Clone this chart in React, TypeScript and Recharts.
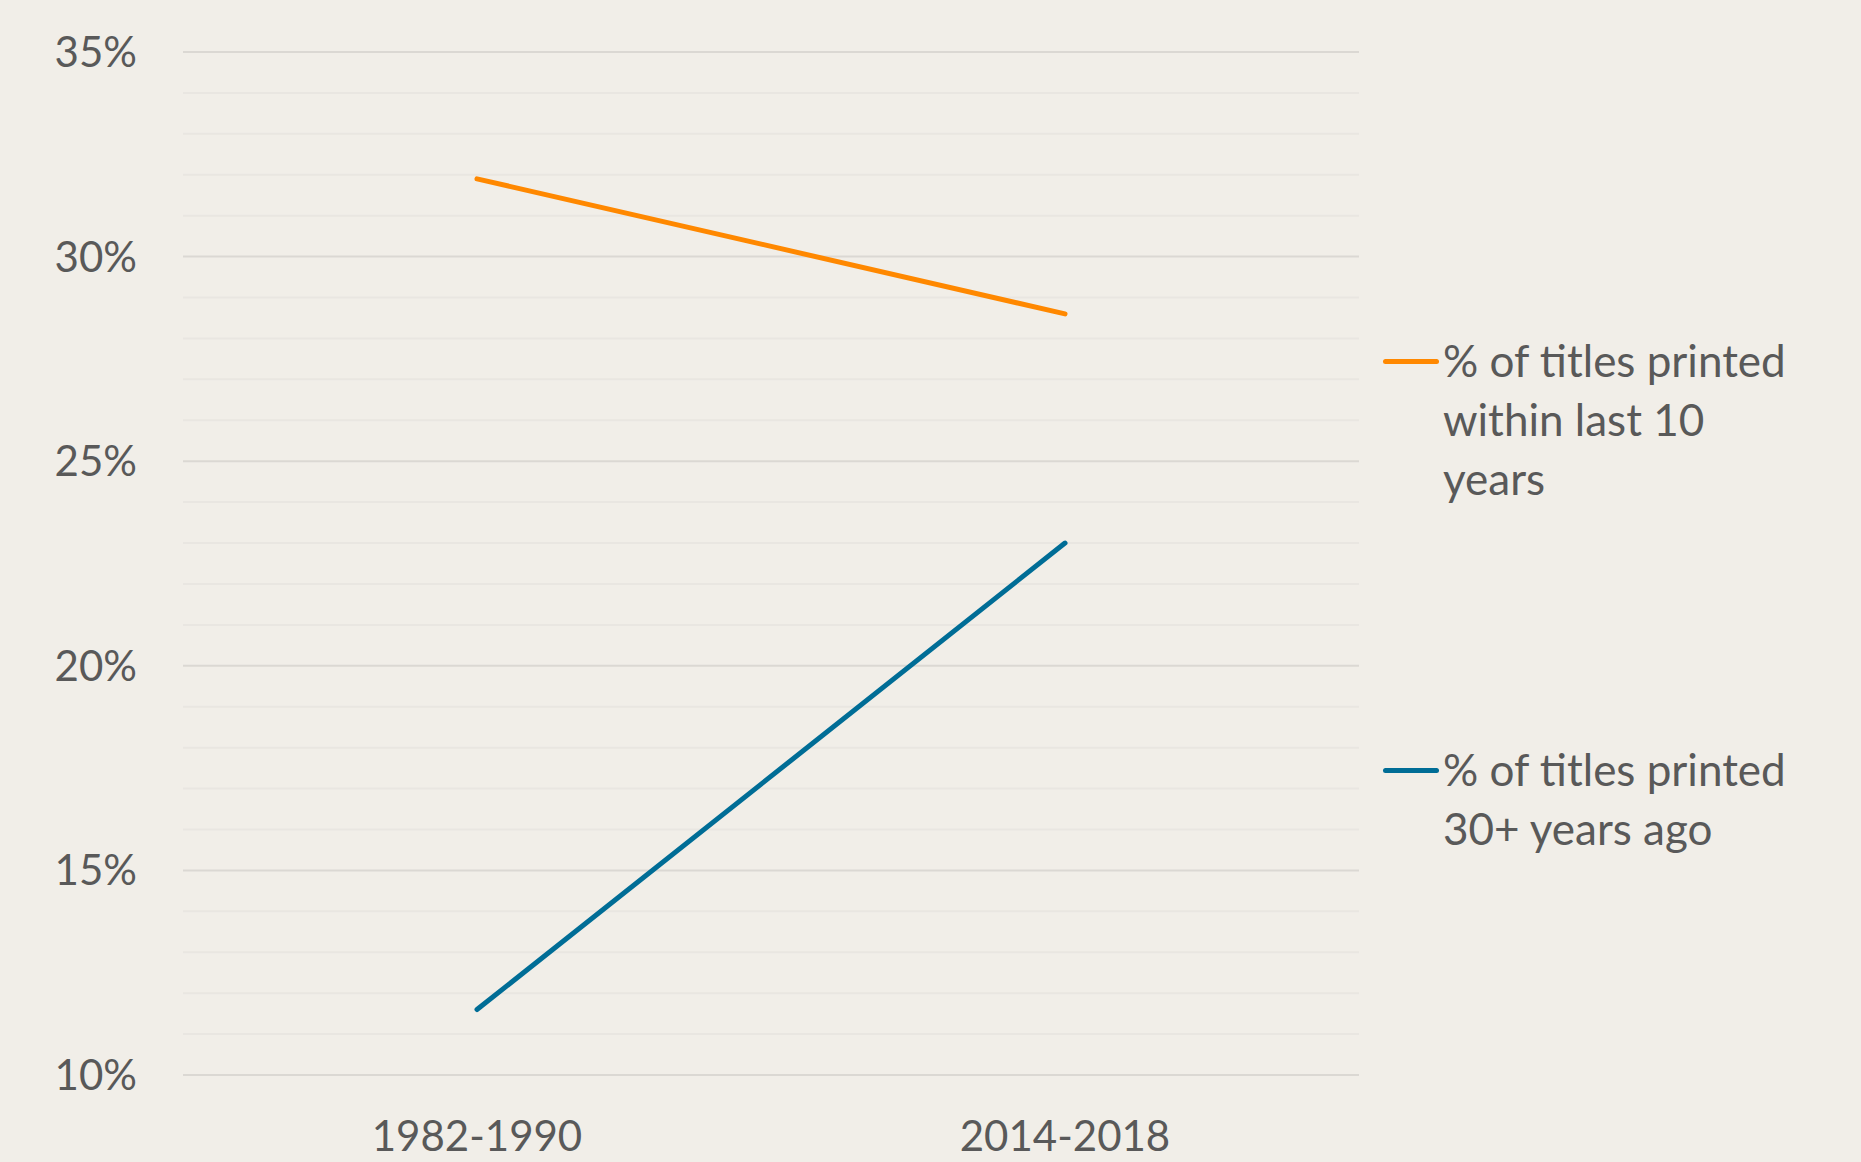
import React from 'react';
import {
  LineChart,
  Line,
  XAxis,
  YAxis,
  CartesianGrid,
  ReferenceLine
} from 'recharts';

const categories = ['1982-1990', '2014-2018'];
const recentTitles = [31.9, 28.6];
const oldTitles = [11.6, 23.0];
const yTicks = [10, 15, 20, 25, 30, 35];
const minorTicks = [11, 12, 13, 14, 16, 17, 18, 19, 21, 22, 23, 24, 26, 27, 28, 29, 31, 32, 33, 34];

const recentLabel = ['% of titles printed', 'within last 10', 'years'];
const oldLabel = ['% of titles printed', '30+ years ago'];

const BG = '#f1eee8';
const TEXT = '#595959';
const ORANGE = '#ff8800';
const BLUE = '#006d96';
const FONT = 'Lato, "Open Sans", sans-serif';

const chartData = categories.map((c, i) => ({
  period: c,
  recent: recentTitles[i],
  old: oldTitles[i]
}));

const LegendEntry: React.FC<{ color: string; lines: string[]; top: number }> = ({ color, lines, top }) => (
  <div style={{ position: 'absolute', left: 1383, top, fontFamily: FONT, fontSize: 44, lineHeight: '59px', color: TEXT }}>
    <div style={{ position: 'absolute', left: 0, top: 28, width: 56, height: 5, borderRadius: 3, background: color }} />
    <div style={{ marginLeft: 60, whiteSpace: 'nowrap' }}>
      {lines.map(l => <div key={l}>{l}</div>)}
    </div>
  </div>
);

export default function App() {
  return (
    <div style={{ position: 'relative', width: 1861, height: 1162, background: BG, overflow: 'hidden' }}>
      <style>{`body{margin:0}`}</style>
      <LineChart
        width={1861}
        height={1162}
        data={chartData}
        margin={{ top: 52, right: 502, left: 0, bottom: 0 }}
      >
        <CartesianGrid vertical={false} stroke="#dbd8d3" strokeWidth={2} />
        {minorTicks.map(v => (
          <ReferenceLine key={v} y={v} stroke="#e9e6e1" strokeWidth={2} />
        ))}
        <XAxis
          dataKey="period"
          height={87}
          padding={{ left: 294, right: 294 }}
          axisLine={false}
          tickLine={false}
          tickSize={0}
          tickMargin={46}
          tick={{ fill: TEXT, fontSize: 42, fontFamily: FONT }}
        />
        <YAxis
          width={183}
          domain={[10, 35]}
          ticks={yTicks}
          axisLine={false}
          tickLine={false}
          tickSize={0}
          tickMargin={46}
          tickFormatter={v => `${v}%`}
          tick={{ fill: TEXT, fontSize: 42, fontFamily: FONT }}
        />
        <Line
          type="linear"
          dataKey="recent"
          stroke={ORANGE}
          strokeWidth={5}
          strokeLinecap="round"
          dot={false}
          isAnimationActive={false}
        />
        <Line
          type="linear"
          dataKey="old"
          stroke={BLUE}
          strokeWidth={5}
          strokeLinecap="round"
          dot={false}
          isAnimationActive={false}
        />
      </LineChart>
      <LegendEntry color={ORANGE} lines={recentLabel} top={331} />
      <LegendEntry color={BLUE} lines={oldLabel} top={740} />
    </div>
  );
}
